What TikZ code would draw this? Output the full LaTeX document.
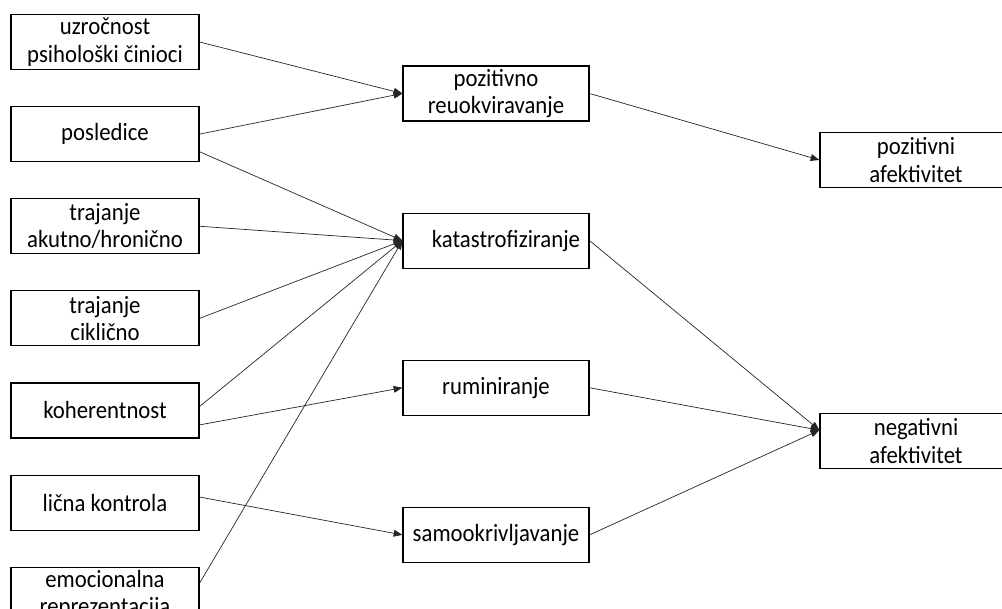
\documentclass[tikz,border=0pt]{standalone}
\usepackage{fontspec}
\setmainfont{Carlito}[FakeStretch=0.92]
\usetikzlibrary{arrows.meta,positioning}

\begin{document}
\begin{tikzpicture}[
    box/.style={draw, line width=0.8pt, minimum width=#1, minimum height=1.375cm, inner sep=1pt,
                font=\fontsize{17.6}{19.5}\selectfont, align=center},
    box/.default=4.7cm,
    arrow/.style={-{Triangle[length=2.2mm, width=1.7mm]}, line width=0.5pt, color=black!85}
]
\clip (0,0) rectangle (25.05,-15.225);

%% Predictors
\node[box] (uzrocnost) at (2.625,-1.05) {uzročnost\\psihološki činioci};
\node[box, below=0.9cm of uzrocnost] (posledice) {posledice};
\node[box, below=0.9cm of posledice] (akutno) {trajanje\\akutno/hronično};
\node[box, below=0.9cm of akutno] (ciklicno) {trajanje\\ciklično};
\node[box, below=0.9cm of ciklicno] (koherentnost) {koherentnost};
\node[box, below=0.9cm of koherentnost] (kontrola) {lična kontrola};
\node[box, below=0.9cm of kontrola] (emocionalna) {emocionalna\\reprezentacija};

%% Coping strategies
\node[box=4.65cm] (reuokviravanje) at (12.4,-2.3375) {pozitivno\\reuokviravanje};
\node[box=4.65cm, below=2.275cm of reuokviravanje] (katastrofiziranje) {\hspace*{0.5cm}katastrofiziranje};
\node[box=4.65cm, below=2.275cm of katastrofiziranje] (ruminiranje) {ruminiranje};
\node[box=4.65cm, below=2.275cm of ruminiranje] (samookrivljavanje) {samookrivljavanje};

%% Outcomes
\node[box=4.8cm] (pozitivni) at (22.9,-4.0) {pozitivni\\afektivitet};
\node[box=4.8cm] (negativni) at (22.9,-11.025) {negativni\\afektivitet};

%% Arrows
\draw[arrow] (uzrocnost.east) -- (reuokviravanje.west);
\draw[arrow] (posledice.east) -- (reuokviravanje.west);
\draw[arrow] ([yshift=-0.44cm]posledice.east) -- (katastrofiziranje.west);
\draw[arrow] (akutno.east) -- (katastrofiziranje.west);
\draw[arrow] (ciklicno.east) -- (katastrofiziranje.west);
\draw[arrow] ([yshift=0.1cm]koherentnost.east) -- (katastrofiziranje.west);
\draw[arrow] ([yshift=-0.36cm]koherentnost.east) -- (ruminiranje.west);
\draw[arrow] ([yshift=0.14cm]kontrola.east) -- (samookrivljavanje.west);
\draw[arrow] ([yshift=0.29cm]emocionalna.east) -- (katastrofiziranje.west);
\draw[arrow] (reuokviravanje.east) -- (pozitivni.west);
\draw[arrow] (katastrofiziranje.east) -- ([yshift=0.27cm]negativni.west);
\draw[arrow] (ruminiranje.east) -- ([yshift=0.27cm]negativni.west);
\draw[arrow] (samookrivljavanje.east) -- ([yshift=0.27cm]negativni.west);

\end{tikzpicture}
\end{document}
